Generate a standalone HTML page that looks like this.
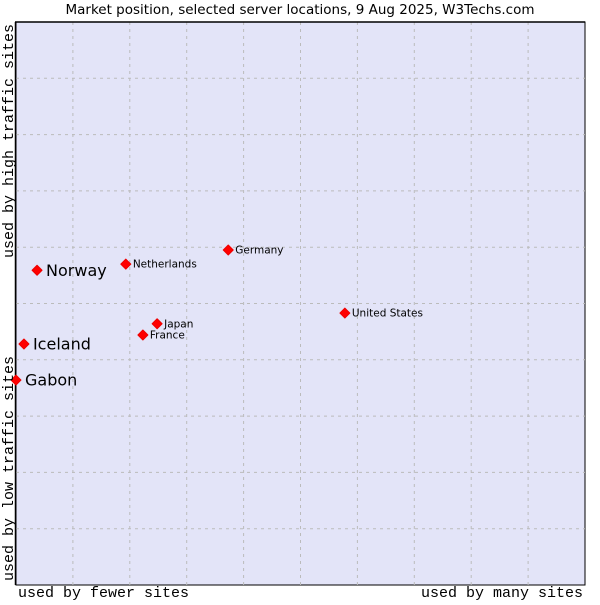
<!DOCTYPE html>
<html><head><meta charset="utf-8"><style>
body{margin:0;background:#fff;width:600px;height:600px;overflow:hidden}
svg text{font-family:"DejaVu Sans","Liberation Sans",sans-serif}
.mono{font-family:"Liberation Mono","DejaVu Sans Mono",monospace}
</style></head><body>
<svg id="chart" width="600" height="600" xmlns="http://www.w3.org/2000/svg">
<text x="300" y="14" text-anchor="middle" font-size="13.5" fill="#000">Market position, selected server locations, 9 Aug 2025, W3Techs.com</text>
<rect x="16" y="22" width="569" height="563" fill="#e3e4f8" stroke="#000" stroke-width="1"/>
<g id="grid"></g>
<line x1="15.5" y1="22" x2="15.5" y2="585" stroke="#000" stroke-width="1.5"/>
<line x1="15" y1="22" x2="585" y2="22" stroke="#000" stroke-width="1.5"/>
<g id="points"></g>
<text class="mono" transform="translate(13,258) rotate(-90)" font-size="15" fill="#000">used by high traffic sites</text>
<text class="mono" transform="translate(13,581) rotate(-90)" font-size="15" fill="#000">used by low traffic sites</text>
<text class="mono" x="18" y="597" font-size="15" fill="#000">used by fewer sites</text>
<text class="mono" x="583" y="597" text-anchor="end" font-size="15" fill="#000">used by many sites</text>
</svg>
<script>
const countries=["Norway","Netherlands","Germany","United States","Japan","France","Iceland","Gabon"];
const siteShare=[3.7,19.3,37.3,57.8,24.8,22.3,1.4,0];
const trafficShare=[55.9,57.0,59.5,48.3,46.4,44.4,42.8,36.4];
const highlighted=[true,false,false,false,false,false,true,true];
const NS="http://www.w3.org/2000/svg";
const X0=16,W=569,Y0=22,H=563;
function xs(v){return X0+v/100*W;}
function ys(v){return Y0+H-v/100*H;}
const grid=document.getElementById('grid');
for(let i=1;i<10;i++){
  const gx=X0+i*W/10, gy=Y0+i*H/10;
  const l1=document.createElementNS(NS,'line');
  
  
  l1.setAttribute('x1',gx);l1.setAttribute('x2',gx);l1.setAttribute('y1',Y0);l1.setAttribute('y2',Y0+H);
  l1.setAttribute('stroke','#bbb');l1.setAttribute('stroke-dasharray','3,4');
  grid.appendChild(l1);
  const l2=document.createElementNS(NS,'line');
  
  
  l2.setAttribute('y1',gy);l2.setAttribute('y2',gy);l2.setAttribute('x1',X0);l2.setAttribute('x2',X0+W);
  l2.setAttribute('stroke','#bbb');l2.setAttribute('stroke-dasharray','3,4');
  grid.appendChild(l2);
}
const pts=document.getElementById('points');
countries.forEach((c,i)=>{
  const x=xs(siteShare[i]), y=ys(trafficShare[i]);
  const d=document.createElementNS(NS,'polygon');
  
  
  d.setAttribute('points',`${x},${y-5} ${x+5},${y} ${x},${y+5} ${x-5},${y}`);
  d.setAttribute('fill','#f00');
  d.setAttribute('stroke','#e00');
  d.setAttribute('stroke-linejoin','round');
  pts.appendChild(d);
  const t=document.createElementNS(NS,'text');
  
  
  const big=highlighted[i];
  t.setAttribute('x',x+(big?9:7));
  t.setAttribute('y',y+(big?5.5:3.5));
  t.setAttribute('font-size',big?'16':'10.5');
  t.setAttribute('fill','#000');
  t.textContent=c;
  pts.appendChild(t);
});
</script>
</body></html>
